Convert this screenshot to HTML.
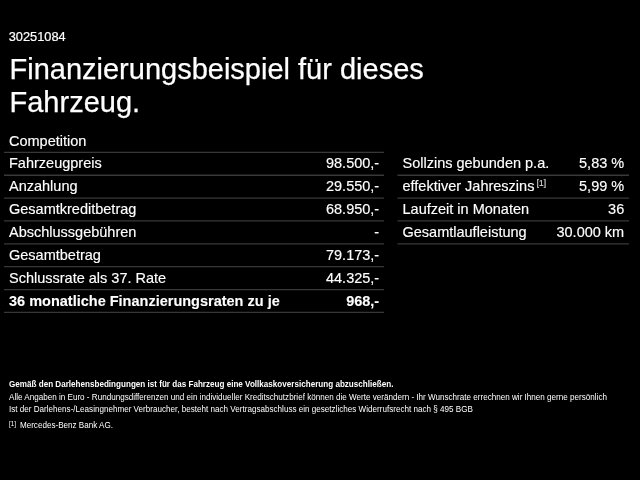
<!DOCTYPE html>
<html lang="de">
<head>
<meta charset="utf-8">
<title>Finanzierungsbeispiel</title>
<style>
html,body{margin:0;padding:0;background:#000;}
body{width:640px;height:480px;overflow:hidden;position:relative;color:#fff;font-family:"Liberation Sans",sans-serif;}
.abs{position:absolute;white-space:nowrap;}
#id{left:8.7px;top:30px;font-size:12.8px;line-height:14px;-webkit-text-stroke:0.2px #fff;}
#title{left:9.5px;top:52.6px;font-size:29px;line-height:33.5px;-webkit-text-stroke:0.25px #fff;}
.tbl{position:absolute;font-size:14.5px;-webkit-text-stroke:0.15px #fff;}
.row{position:relative;height:22.857px;box-sizing:border-box;line-height:22px;}
.row .l{position:absolute;left:5px;top:0;}
.row .r{position:absolute;right:4.8px;top:0;}
.row.b{font-weight:bold;-webkit-text-stroke:0.1px #fff;}
#t1{left:4px;top:129.6px;width:380px;}
#t2{left:397.5px;top:152.46px;width:231.5px;}
sup{color:#ccc;font-size:8.2px;vertical-align:baseline;position:relative;top:-5.6px;margin-left:2.4px;line-height:0;}
.f{left:9px;font-size:8.1px;line-height:10px;transform:scaleY(1.12);transform-origin:0 7px;}
</style>
</head>
<body><div id="wrap" style="position:absolute;left:0;top:0;width:640px;height:480px;filter:blur(0.4px);">
<div class="abs" id="id">30251084</div>
<div class="abs" id="title">Finanzierungsbeispiel für dieses<br>Fahrzeug.</div>

<svg class="abs" style="left:0;top:0;" width="640" height="480" viewBox="0 0 640 480" stroke="#383838" stroke-width="1.3" fill="none"><line x1="4" x2="384" y1="152.40" y2="152.40"/><line x1="4" x2="384" y1="175.26" y2="175.26"/><line x1="4" x2="384" y1="198.11" y2="198.11"/><line x1="4" x2="384" y1="220.97" y2="220.97"/><line x1="4" x2="384" y1="243.83" y2="243.83"/><line x1="4" x2="384" y1="266.69" y2="266.69"/><line x1="4" x2="384" y1="289.54" y2="289.54"/><line x1="4" x2="384" y1="312.40" y2="312.40"/><line x1="397.5" x2="629" y1="175.26" y2="175.26"/><line x1="397.5" x2="629" y1="198.11" y2="198.11"/><line x1="397.5" x2="629" y1="220.97" y2="220.97"/><line x1="397.5" x2="629" y1="243.83" y2="243.83"/></svg>
<div class="tbl" id="t1">
<div class="row first"><span class="l">Competition</span></div>
<div class="row"><span class="l">Fahrzeugpreis</span><span class="r">98.500,-</span></div>
<div class="row"><span class="l">Anzahlung</span><span class="r">29.550,-</span></div>
<div class="row"><span class="l">Gesamtkreditbetrag</span><span class="r">68.950,-</span></div>
<div class="row"><span class="l">Abschlussgebühren</span><span class="r">-</span></div>
<div class="row"><span class="l">Gesamtbetrag</span><span class="r">79.173,-</span></div>
<div class="row"><span class="l">Schlussrate als 37. Rate</span><span class="r">44.325,-</span></div>
<div class="row b last"><span class="l">36 monatliche Finanzierungsraten zu je</span><span class="r">968,-</span></div>
</div>

<div class="tbl" id="t2">
<div class="row"><span class="l">Sollzins gebunden p.a.</span><span class="r">5,83 %</span></div>
<div class="row"><span class="l">effektiver Jahreszins<sup>[1]</sup></span><span class="r">5,99 %</span></div>
<div class="row"><span class="l">Laufzeit in Monaten</span><span class="r">36</span></div>
<div class="row last"><span class="l">Gesamtlaufleistung</span><span class="r">30.000 km</span></div>
</div>

<div class="abs f" style="top:379.6px;font-weight:bold;">Gemäß den Darlehensbedingungen ist für das Fahrzeug eine Vollkaskoversicherung abzuschließen.</div>
<div class="abs f" style="top:393px;">Alle Angaben in Euro - Rundungsdifferenzen und ein individueller Kreditschutzbrief können die Werte verändern - Ihr Wunschrate errechnen wir Ihnen gerne persönlich</div>
<div class="abs f" style="top:405px;">Ist der Darlehens-/Leasingnehmer Verbraucher, besteht nach Vertragsabschluss ein gesetzliches Widerrufsrecht nach § 495 BGB</div>
<div class="abs f" style="top:420.7px;"><span style="font-size:6.3px;position:relative;top:-1.9px;">[1]</span><span style="margin-left:3.9px;">Mercedes-Benz Bank AG.</span></div>
</div></body>
</html>
